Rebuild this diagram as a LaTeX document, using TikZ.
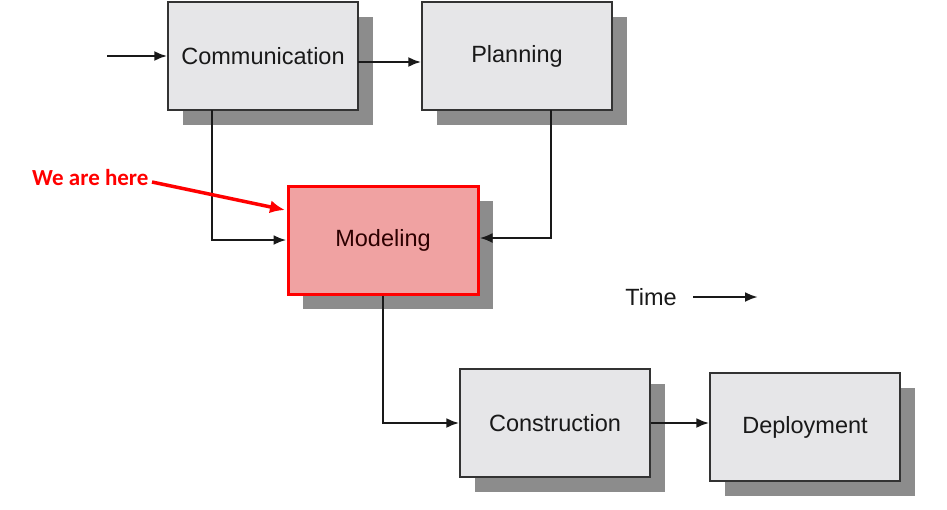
\documentclass[tikz,border=0pt]{standalone}
\usepackage{fontspec}
\setmainfont{Liberation Sans}
\newfontfamily\calib{Carlito}
\usetikzlibrary{arrows.meta}
\definecolor{boxfill}{HTML}{E6E6E8}
\definecolor{shad}{HTML}{8C8C8C}
\definecolor{modfill}{HTML}{F0A2A2}
\begin{document}
\begin{tikzpicture}[x=1pt,y=-1pt,
  box/.style={draw=black!80,line width=1.3pt,fill=boxfill,minimum width=190pt,minimum height=108pt,inner sep=0pt,font=\fontsize{23.5}{26}\selectfont,text=black!90},
  shadowbox/.style={fill=shad,minimum width=190pt,minimum height=108pt,inner sep=0pt},
  flow/.style={draw=black!90,line width=2.6pt,-{Latex[length=13pt,width=10pt]}}]
\useasboundingbox (0,0) rectangle (947,509);
% shadows
\node[shadowbox] at (278,71) {};
\node[shadowbox] at (532,71) {};
\node[shadowbox] at (398,255) {};
\node[shadowbox] at (570,438) {};
\node[shadowbox] at (820,442) {};
% boxes
\node[box] (comm) at (263,56) {Communication};
\node[box] (plan) at (517,56) {Planning};
\node[box,draw=red,line width=3pt,fill=modfill,text=black!75!red!70!black] (mod) at (383,240) {Modeling};
\node[box] (cons) at (555,423) {Construction};
\node[box] (dep) at (805,427) {Deployment};
% connectors
\coordinate (start) at (107,56);
\draw[flow] (start) -- (comm.west);
\draw[flow] (358,62) -- (plan.west |- 0,62);
\draw[flow] (212,110) |- (mod.west);
\draw[flow] (551,110) |- (mod.east |- 0,238);
\draw[flow] (mod.south) |- (cons.west);
\draw[flow] (cons.east) -- (dep.west |- cons.east);
% time
\node[font=\fontsize{23.5}{26}\selectfont,text=black!90] (time) at (651,297) {Time};
\coordinate (tend) at (758,297);
\draw[flow] (693,297) -- (tend);
% we are here
\node[font=\calib\bfseries\fontsize{23}{26}\selectfont,text=red,anchor=west,inner sep=0pt] (here) at (32,178) {We are here};
\coordinate (hereend) at (285,210);
\draw[red,line width=3.5pt,-{Latex[length=15pt,width=13pt]}] (152,182) -- (hereend);
\end{tikzpicture}
\end{document}
